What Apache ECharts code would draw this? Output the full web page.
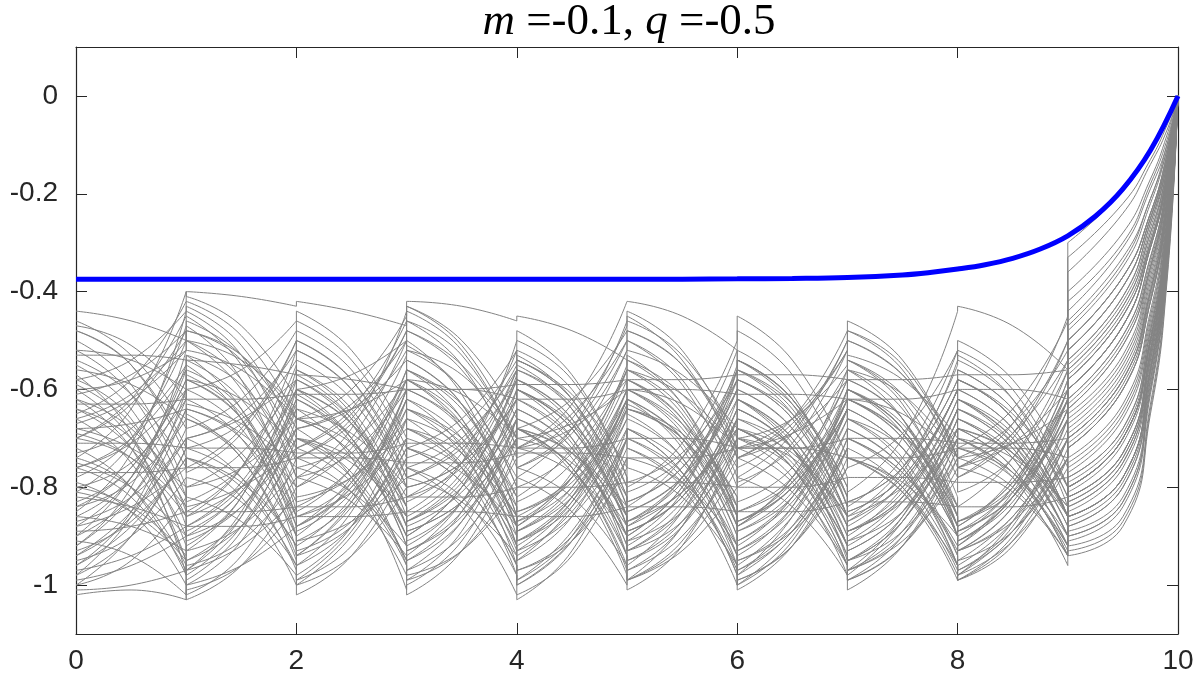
<!DOCTYPE html>
<html>
<head>
<meta charset="utf-8">
<title>m = -0.1, q = -0.5</title>
<script src="https://cdn.jsdelivr.net/npm/echarts@6/dist/echarts.min.js"></script>
<style>
  html, body { margin: 0; padding: 0; background: #fff; }
  #main { width: 1198px; height: 684px; }
</style>
</head>
<body>
<div id="main"></div>
<script>
// axis ticks
var xTicks = [0, 2, 4, 6, 8, 10];
var yTicks = [-1, -0.8, -0.6, -0.4, -0.2, 0];

// blue curve (optimal value)
var optimalT = [0, 1, 2, 3, 4, 5, 6, 6.5, 7, 7.5, 7.75, 8, 8.25, 8.5, 8.75, 9, 9.25, 9.5, 9.75, 10];
var optimalV = [-0.375, -0.375, -0.375, -0.375, -0.375, -0.375, -0.374, -0.373, -0.371, -0.366, -0.361,
                -0.354, -0.345, -0.332, -0.313, -0.286, -0.246, -0.19, -0.111, 0];

// grey paths, one row per path inside each unit interval [k, k+1]:
// value at k, at k+0.5 and at k+1 (just before the jump)
var segT = [0, 0.5, 1];
var seg0 = [
  [-0.44,-0.46,-0.50],[-0.47,-0.51,-0.62],[-0.48,-0.55,-0.72],[-0.50,-0.59,-0.80],[-0.52,-0.54,-0.60],
  [-0.53,-0.53,-0.54],[-0.55,-0.64,-0.85],[-0.56,-0.59,-0.66],[-0.58,-0.54,-0.44],[-0.60,-0.70,-0.92],
  [-0.61,-0.57,-0.48],[-0.62,-0.68,-0.82],[-0.63,-0.63,-0.62],[-0.65,-0.58,-0.42],[-0.66,-0.75,-0.95],
  [-0.67,-0.62,-0.52],[-0.68,-0.72,-0.80],[-0.70,-0.62,-0.45],[-0.71,-0.71,-0.72],[-0.72,-0.80,-0.98],
  [-0.73,-0.68,-0.55],[-0.74,-0.64,-0.40],[-0.75,-0.80,-0.90],[-0.76,-0.71,-0.60],[-0.77,-0.77,-0.76],
  [-0.78,-0.70,-0.50],[-0.79,-0.85,-1.00],[-0.80,-0.75,-0.62],[-0.81,-0.71,-0.47],[-0.82,-0.84,-0.88],
  [-0.83,-0.76,-0.58],[-0.84,-0.79,-0.66],[-0.85,-0.73,-0.44],[-0.86,-0.88,-0.93],[-0.87,-0.82,-0.70],
  [-0.88,-0.78,-0.56],[-0.89,-0.88,-0.85],[-0.90,-0.82,-0.64],[-0.91,-0.94,-1.02],[-0.92,-0.80,-0.52],
  [-0.93,-0.87,-0.74],[-0.94,-0.86,-0.68],[-0.95,-0.90,-0.78],[-0.96,-0.85,-0.60],[-0.97,-0.94,-0.88],
  [-0.98,-0.90,-0.72],[-0.99,-0.96,-0.90],[-1.00,-0.95,-0.82],[-1.01,-1.00,-0.97],[-1.02,-1.01,-1.03],
  [-0.57,-0.69,-0.98],[-0.64,-0.72,-0.90],[-0.69,-0.74,-0.86],[-0.46,-0.53,-0.68],[-0.54,-0.61,-0.76],
  [-0.59,-0.67,-0.84],[-0.81,-0.85,-0.95],[-0.76,-0.82,-0.97],[-0.88,-0.84,-0.76],[-0.68,-0.67,-0.64],
  [-0.90,-0.78,-0.55],[-0.62,-0.72,-0.95],[-0.98,-0.86,-0.64],[-0.70,-0.63,-0.48],[-0.52,-0.61,-0.82],
  [-0.94,-0.85,-0.70],[-0.60,-0.58,-0.52],[-0.86,-0.78,-0.60],[-0.74,-0.80,-0.96],[-0.48,-0.55,-0.74],
  [-1.00,-0.90,-0.72],[-0.66,-0.61,-0.50],[-0.80,-0.84,-0.94],[-0.58,-0.66,-0.88],[-0.92,-0.82,-0.62],
  [-0.70,-0.74,-0.84],[-0.84,-0.76,-0.58],[-0.76,-0.70,-0.56],[-0.64,-0.70,-0.86],[-0.96,-0.88,-0.74]
];
var seg1 = [
  [-0.48,-0.53,-0.66],[-0.60,-0.56,-0.46],[-0.70,-0.65,-0.52],[-0.83,-0.76,-0.60],[-0.58,-0.66,-0.86],
  [-0.54,-0.55,-0.57],[-0.88,-0.80,-0.62],[-0.64,-0.69,-0.80],[-0.43,-0.51,-0.70],[-0.95,-0.86,-0.64],
  [-0.45,-0.55,-0.78],[-0.80,-0.76,-0.66],[-0.62,-0.62,-0.61],[-0.40,-0.41,-0.43],[-1.00,-0.91,-0.70],
  [-0.50,-0.60,-0.82],[-0.84,-0.80,-0.72],[-0.44,-0.53,-0.75],[-0.72,-0.72,-0.73],[-1.02,-0.94,-0.74],
  [-0.53,-0.59,-0.74],[-0.41,-0.47,-0.62],[-0.93,-0.82,-0.56],[-0.58,-0.62,-0.72],[-0.76,-0.76,-0.74],
  [-0.47,-0.58,-0.85],[-1.03,-0.96,-0.80],[-0.60,-0.68,-0.88],[-0.46,-0.53,-0.68],[-0.90,-0.84,-0.70],
  [-0.55,-0.66,-0.93],[-0.68,-0.62,-0.48],[-0.42,-0.49,-0.66],[-0.96,-0.91,-0.78],[-0.72,-0.67,-0.54],
  [-0.54,-0.62,-0.80],[-0.85,-0.85,-0.84],[-0.65,-0.74,-0.95],[-0.99,-0.89,-0.66],[-0.50,-0.54,-0.64],
  [-0.77,-0.69,-0.50],[-0.66,-0.73,-0.90],[-0.80,-0.73,-0.58],[-0.57,-0.65,-0.83],[-0.91,-0.84,-0.68],
  [-0.70,-0.78,-0.97],[-0.93,-0.88,-0.76],[-0.82,-0.87,-0.98],[-0.97,-0.86,-0.60],[-1.01,-0.96,-0.84],
  [-0.95,-0.88,-0.72],[-0.88,-0.88,-0.86],[-0.89,-0.81,-0.63],[-0.70,-0.66,-0.58],[-0.74,-0.79,-0.92],
  [-0.86,-0.76,-0.52],[-0.97,-0.92,-0.82],[-1.00,-0.96,-0.88],[-0.74,-0.82,-1.00],[-0.63,-0.67,-0.76],
  [-0.53,-0.64,-0.88],[-0.97,-0.85,-0.62],[-0.66,-0.74,-0.94],[-0.50,-0.58,-0.78],[-0.85,-0.76,-0.55],
  [-0.72,-0.78,-0.92],[-0.52,-0.56,-0.66],[-0.62,-0.70,-0.90],[-0.98,-0.88,-0.68],[-0.76,-0.68,-0.50],
  [-0.74,-0.80,-0.96],[-0.48,-0.54,-0.72],[-0.92,-0.82,-0.58],[-0.90,-0.81,-0.64],[-0.64,-0.70,-0.86],
  [-0.86,-0.80,-0.68],[-0.56,-0.64,-0.86],[-0.58,-0.66,-0.90],[-0.88,-0.79,-0.60],[-0.78,-0.83,-0.96]
];
var seg2 = [
  [-0.68,-0.63,-0.50],[-0.44,-0.52,-0.70],[-0.50,-0.58,-0.76],[-0.58,-0.67,-0.88],[-0.89,-0.81,-0.62],
  [-0.57,-0.58,-0.60],[-0.60,-0.67,-0.84],[-0.83,-0.78,-0.66],[-0.72,-0.64,-0.46],[-0.62,-0.71,-0.92],
  [-0.80,-0.72,-0.53],[-0.64,-0.69,-0.80],[-0.61,-0.61,-0.60],[-0.42,-0.44,-0.47],[-0.68,-0.78,-1.01],
  [-0.85,-0.76,-0.56],[-0.70,-0.75,-0.86],[-0.78,-0.68,-0.44],[-0.73,-0.73,-0.71],[-0.72,-0.79,-0.96],
  [-0.76,-0.71,-0.58],[-0.60,-0.67,-0.82],[-0.54,-0.62,-0.80],[-0.74,-0.67,-0.52],[-0.74,-0.74,-0.75],
  [-0.88,-0.80,-0.60],[-0.78,-0.83,-0.94],[-0.91,-0.83,-0.64],[-0.66,-0.73,-0.90],[-0.72,-0.65,-0.48],
  [-0.96,-0.88,-0.70],[-0.46,-0.54,-0.72],[-0.68,-0.64,-0.54],[-0.76,-0.81,-0.92],[-0.52,-0.60,-0.78],
  [-0.82,-0.78,-0.68],[-0.84,-0.84,-0.82],[-0.98,-0.88,-0.66],[-0.64,-0.74,-0.96],[-0.66,-0.60,-0.45],
  [-0.48,-0.56,-0.74],[-0.93,-0.87,-0.72],[-0.56,-0.65,-0.86],[-0.86,-0.79,-0.62],[-0.66,-0.71,-0.84],
  [-0.99,-0.92,-0.74],[-0.74,-0.81,-0.98],[-1.00,-0.94,-0.80],[-0.58,-0.66,-0.84],[-0.86,-0.81,-0.70],
  [-0.70,-0.78,-0.95],[-0.86,-0.86,-0.85],[-0.61,-0.70,-0.90],[-0.60,-0.57,-0.50],[-0.94,-0.88,-0.74],
  [-0.50,-0.58,-0.78],[-0.84,-0.76,-0.58],[-0.91,-0.87,-0.78],[-1.02,-0.94,-0.76],[-0.78,-0.73,-0.60],
  [-0.90,-0.79,-0.58],[-0.60,-0.70,-0.92],[-0.96,-0.85,-0.62],[-0.80,-0.70,-0.50],[-0.57,-0.66,-0.88],
  [-0.94,-0.84,-0.66],[-0.66,-0.64,-0.58],[-0.92,-0.82,-0.60],[-0.70,-0.77,-0.95],[-0.52,-0.60,-0.80],
  [-0.99,-0.89,-0.70],[-0.74,-0.66,-0.48],[-0.56,-0.64,-0.84],[-0.66,-0.73,-0.90],[-0.88,-0.80,-0.64],
  [-0.70,-0.74,-0.86],[-0.88,-0.78,-0.56],[-0.94,-0.83,-0.60],[-0.62,-0.70,-0.88],[-1.00,-0.90,-0.72]
];
var seg3 = [
  [-0.48,-0.56,-0.74],[-0.72,-0.66,-0.52],[-0.78,-0.71,-0.55],[-0.91,-0.83,-0.64],[-0.60,-0.68,-0.88],
  [-0.60,-0.60,-0.62],[-0.87,-0.79,-0.60],[-0.64,-0.71,-0.86],[-0.44,-0.52,-0.72],[-0.95,-0.87,-0.68],
  [-0.51,-0.60,-0.80],[-0.83,-0.75,-0.56],[-0.60,-0.60,-0.59],[-0.42,-0.43,-0.46],[-1.00,-0.91,-0.70],
  [-0.54,-0.63,-0.84],[-0.89,-0.83,-0.70],[-0.43,-0.51,-0.70],[-0.71,-0.71,-0.72],[-0.99,-0.89,-0.66],
  [-0.56,-0.63,-0.78],[-0.85,-0.75,-0.50],[-0.82,-0.76,-0.62],[-0.50,-0.61,-0.86],[-0.75,-0.75,-0.73],
  [-0.58,-0.68,-0.92],[-0.97,-0.90,-0.74],[-0.62,-0.72,-0.96],[-0.93,-0.85,-0.66],[-0.46,-0.55,-0.76],
  [-0.68,-0.76,-0.94],[-0.74,-0.68,-0.54],[-0.52,-0.57,-0.70],[-0.95,-0.85,-0.60],[-0.80,-0.75,-0.62],
  [-0.66,-0.76,-0.98],[-0.82,-0.82,-0.80],[-0.64,-0.70,-0.84],[-0.99,-0.93,-0.78],[-0.43,-0.50,-0.66],
  [-0.76,-0.70,-0.56],[-0.70,-0.76,-0.90],[-0.89,-0.83,-0.70],[-0.60,-0.67,-0.82],[-0.87,-0.78,-0.58],
  [-0.72,-0.79,-0.96],[-1.02,-0.93,-0.72],[-0.78,-0.83,-0.94],[-0.87,-0.80,-0.64],[-0.68,-0.73,-0.86],
  [-0.98,-0.93,-0.80],[-0.85,-0.85,-0.86],[-0.93,-0.86,-0.70],[-0.48,-0.55,-0.70],[-0.72,-0.77,-0.88],
  [-0.80,-0.75,-0.62],[-0.56,-0.64,-0.82],[-0.76,-0.84,-1.02],[-0.78,-0.72,-0.58],[-0.58,-0.67,-0.88],
  [-0.56,-0.66,-0.90],[-0.94,-0.83,-0.62],[-0.64,-0.73,-0.93],[-0.52,-0.60,-0.80],[-0.90,-0.80,-0.57],
  [-0.68,-0.75,-0.92],[-0.58,-0.61,-0.70],[-0.62,-0.70,-0.92],[-0.97,-0.87,-0.66],[-0.82,-0.73,-0.52],
  [-0.72,-0.79,-0.96],[-0.46,-0.53,-0.72],[-0.86,-0.77,-0.56],[-0.92,-0.83,-0.64],[-0.66,-0.72,-0.88],
  [-0.88,-0.81,-0.66],[-0.54,-0.63,-0.86],[-0.58,-0.66,-0.88],[-0.90,-0.80,-0.58],[-0.76,-0.82,-0.98]
];
var seg4 = [
  [-0.76,-0.69,-0.52],[-0.50,-0.58,-0.78],[-0.53,-0.62,-0.84],[-0.62,-0.71,-0.92],[-0.91,-0.83,-0.64],
  [-0.62,-0.62,-0.60],[-0.58,-0.66,-0.86],[-0.89,-0.81,-0.62],[-0.74,-0.66,-0.47],[-0.66,-0.74,-0.94],
  [-0.83,-0.75,-0.56],[-0.54,-0.61,-0.76],[-0.59,-0.59,-0.58],[-0.45,-0.48,-0.54],[-0.68,-0.77,-0.98],
  [-0.87,-0.78,-0.58],[-0.68,-0.73,-0.84],[-0.72,-0.63,-0.42],[-0.72,-0.72,-0.70],[-0.64,-0.72,-0.90],
  [-0.80,-0.73,-0.56],[-0.48,-0.57,-0.78],[-0.60,-0.68,-0.86],[-0.89,-0.80,-0.60],[-0.73,-0.73,-0.74],
  [-0.95,-0.86,-0.64],[-0.72,-0.77,-0.90],[-1.00,-0.91,-0.70],[-0.64,-0.72,-0.92],[-0.78,-0.68,-0.46],
  [-0.97,-0.90,-0.72],[-0.52,-0.60,-0.80],[-0.72,-0.68,-0.58],[-0.58,-0.67,-0.88],[-0.60,-0.67,-0.82],
  [-1.02,-0.94,-0.74],[-0.80,-0.80,-0.79],[-0.87,-0.80,-0.62],[-0.76,-0.82,-0.96],[-0.68,-0.62,-0.48],
  [-0.54,-0.62,-0.82],[-0.93,-0.86,-0.70],[-0.68,-0.76,-0.94],[-0.85,-0.78,-0.60],[-0.56,-0.64,-0.84],
  [-0.99,-0.90,-0.68],[-0.70,-0.75,-0.88],[-0.97,-0.91,-0.76],[-0.62,-0.70,-0.90],[-0.89,-0.82,-0.66],
  [-0.78,-0.85,-1.00],[-0.86,-0.86,-0.84],[-0.68,-0.76,-0.96],[-0.72,-0.65,-0.50],[-0.91,-0.84,-0.66],
  [-0.60,-0.68,-0.86],[-0.85,-0.79,-0.64],[-1.03,-0.93,-0.70],[-0.56,-0.63,-0.80],[-0.91,-0.82,-0.62],
  [-0.88,-0.77,-0.55],[-0.60,-0.70,-0.94],[-0.95,-0.84,-0.63],[-0.82,-0.72,-0.52],[-0.55,-0.64,-0.86],
  [-0.94,-0.85,-0.68],[-0.70,-0.67,-0.60],[-0.93,-0.83,-0.62],[-0.68,-0.76,-0.97],[-0.54,-0.62,-0.82],
  [-0.99,-0.89,-0.70],[-0.76,-0.68,-0.50],[-0.58,-0.66,-0.88],[-0.66,-0.73,-0.90],[-0.86,-0.78,-0.62],
  [-0.68,-0.73,-0.86],[-0.88,-0.78,-0.56],[-0.92,-0.82,-0.60],[-0.60,-0.68,-0.88],[-1.00,-0.91,-0.74]
];
var seg5 = [
  [-0.50,-0.59,-0.80],[-0.81,-0.74,-0.56],[-0.87,-0.79,-0.60],[-0.95,-0.88,-0.70],[-0.62,-0.70,-0.90],
  [-0.60,-0.60,-0.61],[-0.89,-0.82,-0.64],[-0.60,-0.68,-0.86],[-0.45,-0.54,-0.74],[-0.97,-0.88,-0.66],
  [-0.54,-0.63,-0.84],[-0.79,-0.73,-0.58],[-0.58,-0.58,-0.57],[-0.52,-0.57,-0.68],[-1.01,-0.92,-0.70],
  [-0.56,-0.65,-0.86],[-0.87,-0.81,-0.68],[-0.42,-0.45,-0.52],[-0.70,-0.70,-0.72],[-0.93,-0.84,-0.62],
  [-0.54,-0.61,-0.76],[-0.80,-0.71,-0.50],[-0.89,-0.82,-0.64],[-0.58,-0.67,-0.88],[-0.74,-0.74,-0.72],
  [-0.62,-0.72,-0.94],[-0.93,-0.87,-0.72],[-0.68,-0.77,-0.98],[-0.95,-0.87,-0.68],[-0.44,-0.52,-0.72],
  [-0.70,-0.78,-0.96],[-0.83,-0.76,-0.58],[-0.56,-0.61,-0.72],[-0.91,-0.81,-0.56],[-0.85,-0.78,-0.62],
  [-0.72,-0.80,-1.00],[-0.79,-0.79,-0.80],[-0.60,-0.67,-0.82],[-0.99,-0.93,-0.80],[-0.46,-0.53,-0.70],
  [-0.85,-0.78,-0.60],[-0.68,-0.75,-0.92],[-0.97,-0.90,-0.74],[-0.58,-0.66,-0.84],[-0.87,-0.78,-0.56],
  [-0.66,-0.74,-0.94],[-0.91,-0.85,-0.70],[-0.74,-0.79,-0.92],[-0.93,-0.85,-0.66],[-0.64,-0.70,-0.84],
  [-0.99,-0.92,-0.76],[-0.84,-0.84,-0.85],[-0.99,-0.91,-0.72],[-0.48,-0.55,-0.72],[-0.64,-0.69,-0.82],
  [-0.89,-0.82,-0.66],[-0.62,-0.70,-0.88],[-0.68,-0.77,-0.98],[-0.83,-0.76,-0.60],[-0.60,-0.69,-0.90],
  [-0.53,-0.63,-0.86],[-0.96,-0.85,-0.64],[-0.65,-0.74,-0.96],[-0.50,-0.58,-0.78],[-0.88,-0.78,-0.55],
  [-0.70,-0.77,-0.94],[-0.60,-0.63,-0.72],[-0.63,-0.71,-0.92],[-0.99,-0.88,-0.66],[-0.84,-0.74,-0.52],
  [-0.72,-0.79,-0.97],[-0.48,-0.55,-0.74],[-0.90,-0.80,-0.58],[-0.92,-0.83,-0.66],[-0.64,-0.70,-0.86],
  [-0.88,-0.81,-0.68],[-0.56,-0.64,-0.86],[-0.58,-0.66,-0.88],[-0.90,-0.80,-0.60],[-0.76,-0.82,-0.96]
];
var seg6 = [
  [-0.83,-0.76,-0.58],[-0.54,-0.62,-0.82],[-0.58,-0.66,-0.86],[-0.68,-0.76,-0.94],[-0.93,-0.85,-0.66],
  [-0.61,-0.61,-0.62],[-0.62,-0.70,-0.90],[-0.89,-0.82,-0.64],[-0.76,-0.68,-0.50],[-0.64,-0.72,-0.92],
  [-0.87,-0.79,-0.60],[-0.56,-0.63,-0.80],[-0.57,-0.57,-0.58],[-0.70,-0.66,-0.55],[-0.68,-0.76,-0.96],
  [-0.89,-0.81,-0.62],[-0.66,-0.72,-0.88],[-0.45,-0.54,-0.74],[-0.72,-0.72,-0.70],[-0.60,-0.68,-0.88],
  [-0.79,-0.72,-0.56],[-0.48,-0.57,-0.78],[-0.62,-0.71,-0.92],[-0.91,-0.82,-0.62],[-0.72,-0.72,-0.74],
  [-0.97,-0.88,-0.68],[-0.70,-0.76,-0.92],[-1.00,-0.91,-0.70],[-0.66,-0.74,-0.94],[-0.74,-0.66,-0.48],
  [-0.99,-0.92,-0.74],[-0.56,-0.64,-0.84],[-0.74,-0.69,-0.58],[-0.54,-0.63,-0.84],[-0.60,-0.68,-0.86],
  [-0.99,-0.92,-0.76],[-0.80,-0.80,-0.78],[-0.85,-0.78,-0.62],[-0.78,-0.84,-0.98],[-0.72,-0.66,-0.52],
  [-0.58,-0.66,-0.86],[-0.95,-0.88,-0.72],[-0.72,-0.79,-0.96],[-0.87,-0.80,-0.62],[-0.54,-0.62,-0.80],
  [-0.97,-0.89,-0.70],[-0.68,-0.73,-0.86],[-0.95,-0.89,-0.76],[-0.64,-0.72,-0.92],[-0.87,-0.80,-0.64],
  [-0.74,-0.81,-0.96],[-0.85,-0.85,-0.83],[-0.70,-0.78,-0.98],[-0.74,-0.67,-0.52],[-0.85,-0.79,-0.64],
  [-0.64,-0.72,-0.90],[-0.91,-0.83,-0.66],[-1.01,-0.92,-0.72],[-0.58,-0.65,-0.82],[-0.93,-0.84,-0.64],
  [-0.88,-0.78,-0.58],[-0.62,-0.72,-0.95],[-0.98,-0.86,-0.64],[-0.80,-0.71,-0.52],[-0.52,-0.61,-0.84],
  [-0.96,-0.86,-0.68],[-0.72,-0.69,-0.62],[-0.94,-0.84,-0.60],[-0.68,-0.76,-0.96],[-0.54,-0.62,-0.82],
  [-1.00,-0.90,-0.72],[-0.78,-0.69,-0.50],[-0.56,-0.65,-0.86],[-0.68,-0.75,-0.92],[-0.88,-0.80,-0.64],
  [-0.70,-0.74,-0.86],[-0.88,-0.78,-0.56],[-0.92,-0.82,-0.60],[-0.62,-0.70,-0.88],[-0.98,-0.89,-0.72]
];
var seg7 = [
  [-0.56,-0.64,-0.84],[-0.85,-0.78,-0.60],[-0.89,-0.82,-0.64],[-0.97,-0.90,-0.72],[-0.64,-0.72,-0.90],
  [-0.62,-0.62,-0.60],[-0.93,-0.85,-0.66],[-0.62,-0.70,-0.88],[-0.48,-0.56,-0.76],[-0.95,-0.87,-0.68],
  [-0.58,-0.66,-0.86],[-0.83,-0.76,-0.58],[-0.58,-0.58,-0.57],[-0.53,-0.58,-0.70],[-0.99,-0.90,-0.70],
  [-0.60,-0.68,-0.88],[-0.91,-0.85,-0.70],[-0.76,-0.69,-0.52],[-0.70,-0.70,-0.71],[-0.91,-0.82,-0.62],
  [-0.54,-0.61,-0.78],[-0.81,-0.70,-0.44],[-0.95,-0.86,-0.66],[-0.60,-0.68,-0.88],[-0.74,-0.74,-0.72],
  [-0.66,-0.74,-0.94],[-0.95,-0.89,-0.74],[-0.68,-0.76,-0.96],[-0.97,-0.89,-0.70],[-0.46,-0.54,-0.74],
  [-0.72,-0.80,-0.98],[-0.87,-0.79,-0.60],[-0.56,-0.61,-0.74],[-0.87,-0.77,-0.54],[-0.89,-0.82,-0.64],
  [-0.74,-0.81,-0.99],[-0.78,-0.78,-0.79],[-0.60,-0.67,-0.84],[-0.97,-0.91,-0.78],[-0.50,-0.57,-0.72],
  [-0.89,-0.81,-0.62],[-0.70,-0.77,-0.92],[-0.99,-0.92,-0.76],[-0.60,-0.68,-0.86],[-0.83,-0.76,-0.58],
  [-0.68,-0.76,-0.94],[-0.89,-0.83,-0.70],[-0.74,-0.79,-0.90],[-0.95,-0.87,-0.68],[-0.62,-0.69,-0.86],
  [-0.99,-0.92,-0.74],[-0.83,-0.83,-0.84],[-1.01,-0.92,-0.72],[-0.50,-0.57,-0.74],[-0.62,-0.69,-0.84],
  [-0.93,-0.85,-0.66],[-0.64,-0.72,-0.90],[-0.70,-0.78,-0.96],[-0.85,-0.78,-0.60],[-0.62,-0.70,-0.90],
  [-0.56,-0.66,-0.90],[-0.97,-0.86,-0.64],[-0.66,-0.75,-0.96],[-0.54,-0.62,-0.82],[-0.86,-0.76,-0.55],
  [-0.70,-0.77,-0.93],[-0.62,-0.65,-0.74],[-0.60,-0.69,-0.90],[-0.98,-0.87,-0.68],[-0.84,-0.74,-0.52],
  [-0.74,-0.80,-0.97],[-0.48,-0.55,-0.74],[-0.88,-0.79,-0.60],[-0.92,-0.83,-0.64],[-0.66,-0.72,-0.88],
  [-0.86,-0.80,-0.68],[-0.54,-0.63,-0.86],[-0.58,-0.66,-0.88],[-0.90,-0.80,-0.60],[-0.74,-0.81,-0.96]
];
var seg8 = [
  [-0.87,-0.79,-0.60],[-0.58,-0.66,-0.86],[-0.62,-0.70,-0.88],[-0.70,-0.77,-0.92],[-0.93,-0.84,-0.64],
  [-0.60,-0.60,-0.62],[-0.64,-0.72,-0.90],[-0.91,-0.82,-0.62],[-0.78,-0.70,-0.50],[-0.66,-0.74,-0.92],
  [-0.89,-0.80,-0.58],[-0.56,-0.64,-0.82],[-0.57,-0.57,-0.56],[-0.72,-0.64,-0.46],[-0.68,-0.76,-0.94],
  [-0.91,-0.83,-0.64],[-0.68,-0.73,-0.86],[-0.50,-0.58,-0.76],[-0.71,-0.71,-0.70],[-0.60,-0.68,-0.86],
  [-0.81,-0.74,-0.56],[-0.43,-0.47,-0.56],[-0.64,-0.72,-0.90],[-0.91,-0.82,-0.60],[-0.72,-0.72,-0.74],
  [-0.97,-0.88,-0.66],[-0.72,-0.77,-0.90],[-0.99,-0.90,-0.70],[-0.68,-0.76,-0.94],[-0.76,-0.67,-0.45],
  [-0.99,-0.91,-0.72],[-0.58,-0.66,-0.86],[-0.76,-0.71,-0.60],[-0.52,-0.60,-0.80],[-0.62,-0.69,-0.86],
  [-0.98,-0.91,-0.76],[-0.79,-0.79,-0.78],[-0.87,-0.80,-0.62],[-0.76,-0.81,-0.94],[-0.74,-0.67,-0.52],
  [-0.60,-0.68,-0.86],[-0.95,-0.89,-0.74],[-0.74,-0.80,-0.94],[-0.89,-0.82,-0.64],[-0.56,-0.64,-0.82],
  [-0.97,-0.89,-0.70],[-0.68,-0.73,-0.84],[-0.93,-0.87,-0.74],[-0.66,-0.74,-0.92],[-0.89,-0.82,-0.66],
  [-0.72,-0.78,-0.92],[-0.84,-0.84,-0.82],[-0.70,-0.78,-0.96],[-0.76,-0.69,-0.54],[-0.87,-0.81,-0.66],
  [-0.64,-0.71,-0.88],[-0.93,-0.86,-0.68],[-0.99,-0.92,-0.74],[-0.58,-0.65,-0.80],[-0.93,-0.84,-0.62],
  [-0.92,-0.81,-0.60],[-0.62,-0.71,-0.90],[-0.98,-0.87,-0.66],[-0.84,-0.74,-0.54],[-0.53,-0.62,-0.84],
  [-0.95,-0.86,-0.70],[-0.74,-0.71,-0.64],[-0.92,-0.82,-0.62],[-0.70,-0.77,-0.93],[-0.54,-0.62,-0.80],
  [-0.96,-0.87,-0.70],[-0.78,-0.69,-0.50],[-0.58,-0.66,-0.86],[-0.66,-0.73,-0.90],[-0.88,-0.79,-0.62],
  [-0.70,-0.74,-0.84],[-0.88,-0.78,-0.56],[-0.90,-0.80,-0.58],[-0.62,-0.70,-0.86],[-0.98,-0.89,-0.74]
];
// last interval: value at 9, 9.5, 9.75, 9.9; every path ends at finalValue at t = 10
var lastT = [9, 9.5, 9.75, 9.9, 10];
var finalValue = 0;
var seg9 = [
  [-0.55,-0.42,-0.27,-0.14],[-0.84,-0.75,-0.54,-0.31],[-0.80,-0.70,-0.50,-0.28],[-0.90,-0.83,-0.60,-0.35],
  [-0.58,-0.45,-0.30,-0.16],[-0.52,-0.39,-0.25,-0.13],[-0.86,-0.78,-0.56,-0.32],[-0.56,-0.43,-0.28,-0.15],
  [-0.40,-0.28,-0.17,-0.08],[-0.88,-0.80,-0.58,-0.33],[-0.50,-0.37,-0.24,-0.12],[-0.78,-0.68,-0.48,-0.27],
  [-0.48,-0.35,-0.22,-0.11],[-0.33,-0.22,-0.13,-0.06],[-0.94,-0.88,-0.65,-0.38],[-0.60,-0.47,-0.31,-0.17],
  [-0.82,-0.73,-0.52,-0.29],[-0.70,-0.58,-0.40,-0.22],[-0.64,-0.51,-0.35,-0.19],[-0.83,-0.74,-0.53,-0.30],
  [-0.47,-0.34,-0.21,-0.11],[-0.30,-0.195,-0.11,-0.05],[-0.86,-0.78,-0.56,-0.32],[-0.54,-0.41,-0.26,-0.14],
  [-0.68,-0.56,-0.38,-0.21],[-0.62,-0.49,-0.33,-0.18],[-0.87,-0.79,-0.57,-0.33],[-0.66,-0.54,-0.36,-0.20],
  [-0.92,-0.86,-0.63,-0.36],[-0.36,-0.24,-0.14,-0.07],[-0.69,-0.57,-0.39,-0.21],[-0.81,-0.71,-0.51,-0.29],
  [-0.52,-0.39,-0.25,-0.13],[-0.76,-0.65,-0.46,-0.25],[-0.80,-0.70,-0.50,-0.28],[-0.72,-0.60,-0.42,-0.23],
  [-0.75,-0.64,-0.45,-0.25],[-0.58,-0.45,-0.30,-0.16],[-0.91,-0.84,-0.61,-0.35],[-0.44,-0.31,-0.19,-0.10],
  [-0.82,-0.73,-0.52,-0.29],[-0.71,-0.59,-0.41,-0.23],[-0.89,-0.82,-0.59,-0.34],[-0.60,-0.47,-0.31,-0.17],
  [-0.79,-0.69,-0.49,-0.27],[-0.65,-0.53,-0.35,-0.19],[-0.80,-0.70,-0.50,-0.28],[-0.70,-0.58,-0.40,-0.22],
  [-0.85,-0.76,-0.55,-0.31],[-0.62,-0.49,-0.33,-0.18],[-0.88,-0.80,-0.58,-0.33],[-0.78,-0.68,-0.48,-0.27],
  [-0.93,-0.87,-0.64,-0.37],[-0.50,-0.37,-0.24,-0.12],[-0.60,-0.47,-0.31,-0.17],[-0.84,-0.75,-0.54,-0.31],
  [-0.64,-0.51,-0.35,-0.19],[-0.72,-0.60,-0.42,-0.23],[-0.77,-0.66,-0.47,-0.26],[-0.57,-0.44,-0.29,-0.15],
  [-0.52,-0.39,-0.25,-0.13],[-0.86,-0.78,-0.56,-0.32],[-0.63,-0.50,-0.34,-0.18],[-0.46,-0.33,-0.21,-0.10],
  [-0.80,-0.70,-0.50,-0.28],[-0.67,-0.55,-0.37,-0.20],[-0.56,-0.43,-0.28,-0.15],[-0.58,-0.45,-0.30,-0.16],
  [-0.90,-0.83,-0.60,-0.35],[-0.74,-0.63,-0.44,-0.24],[-0.70,-0.58,-0.40,-0.22],[-0.42,-0.30,-0.18,-0.09],
  [-0.83,-0.74,-0.53,-0.30],[-0.86,-0.78,-0.56,-0.32],[-0.60,-0.47,-0.31,-0.17],[-0.80,-0.70,-0.50,-0.28],
  [-0.50,-0.37,-0.24,-0.12],[-0.54,-0.41,-0.26,-0.14],[-0.82,-0.73,-0.52,-0.29],[-0.72,-0.60,-0.42,-0.23]
];

var segments = [seg0, seg1, seg2, seg3, seg4, seg5, seg6, seg7, seg8];

// smooth pieces inside each interval, separated by gaps; jumps drawn straight
var pathData = [];
var jumpData = [];
for (var i = 0; i < seg9.length; i++) {
  for (var k = 0; k < segments.length; k++) {
    var row = segments[k][i];
    for (var j = 0; j < segT.length; j++) pathData.push([k + segT[j], row[j]]);
    pathData.push([k + 1, '-']);
    var nextStart = k + 1 < segments.length ? segments[k + 1][i][0] : seg9[i][0];
    jumpData.push([k + 1, row[2]], [k + 1, nextStart], [k + 1, '-']);
  }
  var last = seg9[i].concat([finalValue]);
  for (j = 0; j < lastT.length; j++) pathData.push([lastT[j], last[j]]);
  pathData.push([10, '-']);
}

var optimalData = optimalT.map(function (t, n) { return [t, optimalV[n]]; });

var axisColor = '#262626';
var labelFont = { fontFamily: 'Liberation Sans, Arial, sans-serif', fontSize: 28, color: axisColor };

var chart = echarts.init(document.getElementById('main'), null, { renderer: 'canvas' });
chart.setOption({
  animation: false,
  backgroundColor: '#fff',
  title: {
    text: '{i|m} =-0.1, {i|q} =-0.5',
    left: 624,
    top: -5,
    textAlign: 'center',
    textStyle: {
      fontFamily: 'Liberation Serif, DejaVu Serif, serif',
      fontSize: 45,
      fontWeight: 'normal',
      color: '#000',
      rich: {
        i: { fontFamily: 'Liberation Serif, DejaVu Serif, serif', fontStyle: 'italic', fontSize: 45, color: '#000' }
      }
    }
  },
  grid: { left: 76, right: 20, top: 47, bottom: 50 },
  xAxis: [
    {
      type: 'value', min: 0, max: 10, interval: 2, position: 'bottom',
      axisLine: { onZero: false, lineStyle: { color: axisColor, width: 1.2 } },
      axisTick: { inside: true, length: 11, lineStyle: { color: axisColor } },
      axisLabel: Object.assign({ margin: 13, customValues: xTicks }, labelFont),
      splitLine: { show: false }
    },
    {
      type: 'value', min: 0, max: 10, interval: 2, position: 'top',
      axisLine: { onZero: false, lineStyle: { color: axisColor, width: 1.2 } },
      axisTick: { inside: true, length: 11, lineStyle: { color: axisColor } },
      axisLabel: { show: false },
      splitLine: { show: false }
    }
  ],
  yAxis: [
    {
      type: 'value', min: -1.1, max: 0.1, position: 'left',
      axisLine: { show: true, onZero: false, lineStyle: { color: axisColor, width: 1.2 } },
      axisTick: { show: true, inside: true, length: 11, customValues: yTicks, lineStyle: { color: axisColor } },
      axisLabel: Object.assign({ margin: 18, customValues: yTicks }, labelFont),
      splitLine: { show: false }
    },
    {
      type: 'value', min: -1.1, max: 0.1, position: 'right',
      axisLine: { show: true, onZero: false, lineStyle: { color: axisColor, width: 1.2 } },
      axisTick: { show: true, inside: true, length: 11, customValues: yTicks, lineStyle: { color: axisColor } },
      axisLabel: { show: false },
      splitLine: { show: false }
    }
  ],
  series: [
    {
      name: 'paths', type: 'line', data: pathData, smooth: 0.5,
      showSymbol: false, silent: true, connectNulls: false,
      lineStyle: { color: '#838383', width: 1 }
    },
    {
      name: 'jumps', type: 'line', data: jumpData,
      showSymbol: false, silent: true, connectNulls: false,
      lineStyle: { color: '#838383', width: 1 }
    },
    {
      name: 'optimal', type: 'line', data: optimalData, smooth: 0.4, z: 5,
      showSymbol: false, silent: true,
      lineStyle: { color: '#0000ff', width: 5 }
    }
  ]
});
</script>
</body>
</html>
